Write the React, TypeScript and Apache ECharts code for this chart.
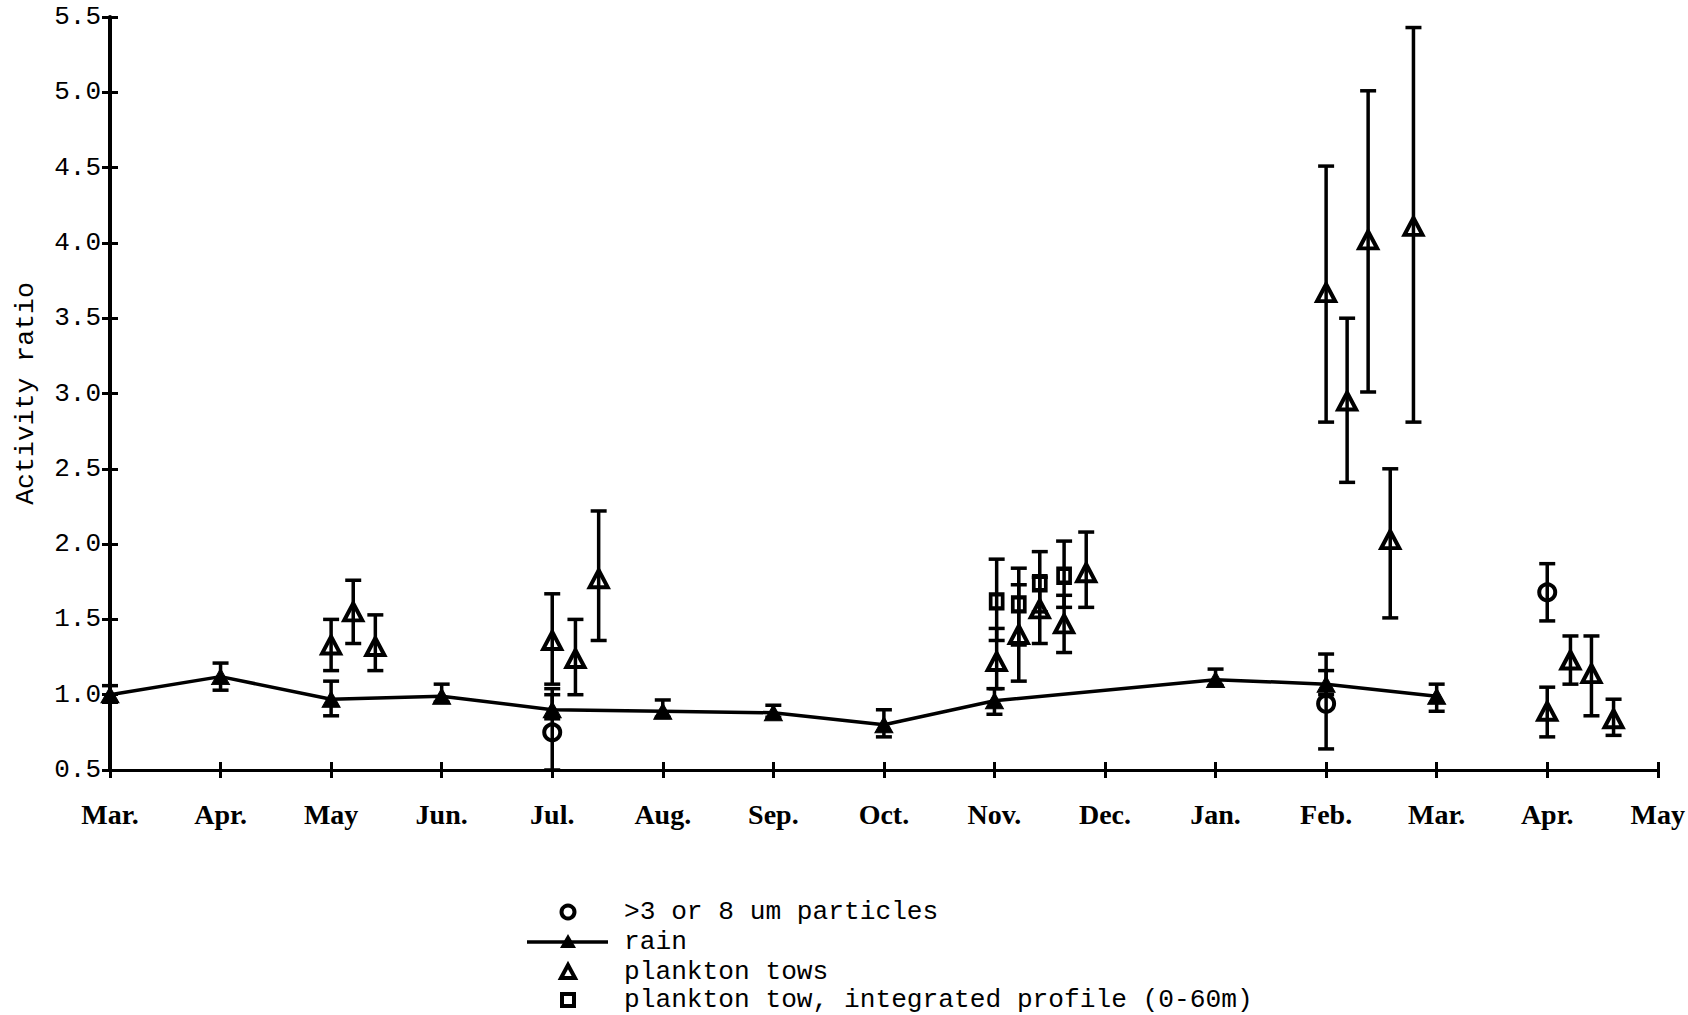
import React, { useEffect, useRef } from "react";
import * as echarts from "echarts";

// Month ticks along the time axis (index 0 = first March)
const monthLabels = ["Mar.", "Apr.", "May", "Jun.", "Jul.", "Aug.", "Sep.", "Oct.", "Nov.", "Dec.", "Jan.", "Feb.", "Mar.", "Apr.", "May"];

// Rain (filled triangles joined by a line)
const rainX = [0, 1, 2, 3, 4, 5, 6, 7, 8, 10, 11, 12];
const rainY = [1.0, 1.12, 0.97, 0.99, 0.9, 0.89, 0.88, 0.8, 0.96, 1.1, 1.07, 0.99];
const rainLow = [0.95, 1.03, 0.86, 0.95, 0.84, 0.85, 0.85, 0.72, 0.87, 1.06, 1.0, 0.89];
const rainHigh = [1.06, 1.21, 1.09, 1.07, 1.0, 0.965, 0.93, 0.9, 1.04, 1.17, 1.16, 1.07];

// >3 or 8 um particles (open circles)
const particleX = [4, 11, 13];
const particleY = [0.75, 0.94, 1.68];
const particleLow = [0.5, 0.64, 1.49];
const particleHigh = [1.04, 1.27, 1.87];

// Plankton tows (open triangles)
const towX = [2.0, 2.2, 2.4, 4.0, 4.21, 4.42, 8.02, 8.22, 8.41, 8.63, 8.83, 11.0, 11.19, 11.38, 11.58, 11.79, 13.0, 13.21, 13.4, 13.6];
const towY = [1.33, 1.55, 1.32, 1.36, 1.24, 1.77, 1.22, 1.4, 1.57, 1.47, 1.81, 3.67, 2.95, 4.02, 2.03, 4.11, 0.89, 1.23, 1.14, 0.84];
const towLow = [1.16, 1.34, 1.16, 1.07, 1.0, 1.36, 1.04, 1.09, 1.34, 1.28, 1.58, 2.81, 2.41, 3.01, 1.51, 2.81, 0.72, 1.07, 0.86, 0.73];
const towHigh = [1.5, 1.76, 1.53, 1.67, 1.5, 2.22, 1.44, 1.73, 1.78, 1.66, 2.08, 4.51, 3.5, 5.01, 2.5, 5.43, 1.05, 1.39, 1.39, 0.97];

// Plankton tow, integrated profile 0-60 m (open squares)
const profileX = [8.02, 8.22, 8.41, 8.63];
const profileY = [1.62, 1.6, 1.74, 1.79];
const profileLow = [1.36, 1.33, 1.55, 1.58];
const profileHigh = [1.9, 1.84, 1.95, 2.02];

const legendLabels = [">3 or 8 um particles", "rain", "plankton tows", "plankton tow, integrated profile (0-60m)"];

const MONO = '"Liberation Mono", "DejaVu Sans Mono", monospace';
const SERIF = '"Liberation Serif", "DejaVu Serif", serif';
const INK = "#000";

function errorBars(name: string, xs: number[], lows: number[], highs: number[]) {
  return {
    type: "custom",
    name,
    silent: true,
    z: 2,
    clip: false,
    data: xs.map((x, i) => [x, lows[i], highs[i]]),
    encode: { x: 0, y: [1, 2] },
    renderItem: (_params: any, api: any) => {
      const x = api.value(0);
      const lo = api.coord([x, api.value(1)]);
      const hi = api.coord([x, api.value(2)]);
      const hw = 8;
      const style = { stroke: INK, lineWidth: 3.5, fill: "none" };
      return {
        type: "group",
        children: [
          { type: "line", shape: { x1: lo[0], y1: lo[1], x2: hi[0], y2: hi[1] }, style },
          { type: "line", shape: { x1: lo[0] - hw, y1: lo[1], x2: lo[0] + hw, y2: lo[1] }, style },
          { type: "line", shape: { x1: hi[0] - hw, y1: hi[1], x2: hi[0] + hw, y2: hi[1] }, style },
        ],
      };
    },
  };
}

const pairs = (xs: number[], ys: number[]) => xs.map((x, i) => [x, ys[i]]);

function buildLegend() {
  const x0 = 568;
  const tx = 624;
  const rows = [912, 942, 972, 1000];
  const stroke = { stroke: INK, lineWidth: 4, fill: "none" };
  const items: any[] = [
    { type: "circle", shape: { cx: x0, cy: rows[0], r: 6.5 }, style: stroke },
    { type: "line", shape: { x1: 527, y1: rows[1], x2: 608, y2: rows[1] }, style: { stroke: INK, lineWidth: 3.5 } },
    { type: "polygon", shape: { points: [[x0, rows[1] - 8], [x0 + 8, rows[1] + 6], [x0 - 8, rows[1] + 6]] }, style: { fill: INK } },
    { type: "polygon", shape: { points: [[x0, rows[2] - 7], [x0 + 7, rows[2] + 6], [x0 - 7, rows[2] + 6]] }, style: stroke },
    { type: "rect", shape: { x: x0 - 6, y: rows[3] - 6, width: 12, height: 12 }, style: stroke },
  ];
  legendLabels.forEach((label, i) => {
    items.push({
      type: "text",
      x: tx,
      y: rows[i],
      style: { text: label, font: `26.2px ${MONO}`, fill: INK, verticalAlign: "middle", align: "left" },
    });
  });
  return items;
}

export default function App() {
  const ref = useRef<HTMLDivElement>(null);

  useEffect(() => {
    if (!ref.current) return;
    const chart = echarts.init(ref.current, null, { renderer: "svg" });

    const baseX = {
      type: "value",
      min: 0,
      max: 14,
      interval: 1,
      splitLine: { show: false },
    };
    const baseY = {
      type: "value",
      min: 0.5,
      max: 5.5,
      interval: 0.5,
      splitLine: { show: false },
    };

    const openMarker = { color: "rgba(0,0,0,0)", borderColor: INK, opacity: 1 };

    chart.setOption({
      animation: false,
      backgroundColor: "#fff",
      grid: { left: 110, right: 23, top: 17, bottom: 245, containLabel: false },
      xAxis: [
        {
          ...baseX,
          position: "bottom",
          axisLine: { show: true, onZero: false, lineStyle: { color: INK, width: 3 } },
          axisTick: { show: true, inside: false, length: 8, lineStyle: { color: INK, width: 3 } },
          axisLabel: {
            show: true,
            margin: 30,
            color: INK,
            fontFamily: SERIF,
            fontWeight: "bold",
            fontSize: 28,
            formatter: (v: number) => monthLabels[Math.round(v)] ?? "",
          },
        },
        {
          ...baseX,
          position: "bottom",
          axisLine: { show: false, onZero: false },
          axisTick: { show: true, inside: true, length: 8, lineStyle: { color: INK, width: 3 } },
          axisLabel: { show: false },
        },
      ],
      yAxis: [
        {
          ...baseY,
          position: "left",
          name: "Activity ratio",
          nameLocation: "middle",
          nameGap: 71,
          nameTextStyle: { color: INK, fontFamily: MONO, fontSize: 26.5 },
          axisLine: { show: true, onZero: false, lineStyle: { color: INK, width: 4 } },
          axisTick: { show: true, inside: false, length: 8, lineStyle: { color: INK, width: 3 } },
          axisLabel: {
            show: true,
            margin: 9,
            color: INK,
            fontFamily: MONO,
            fontSize: 26,
            formatter: (v: number) => v.toFixed(1),
          },
        },
        {
          ...baseY,
          position: "left",
          axisLine: { show: false, onZero: false },
          axisTick: { show: true, inside: true, length: 8, lineStyle: { color: INK, width: 3 } },
          axisLabel: { show: false },
        },
      ],
      graphic: buildLegend(),
      series: [
        errorBars("rain error", rainX, rainLow, rainHigh),
        errorBars("particles error", particleX, particleLow, particleHigh),
        errorBars("tows error", towX, towLow, towHigh),
        errorBars("profile error", profileX, profileLow, profileHigh),
        {
          type: "line",
          name: "rain",
          data: pairs(rainX, rainY),
          symbol: "triangle",
          symbolSize: [18, 16],
          showSymbol: true,
          lineStyle: { color: INK, width: 3.5 },
          itemStyle: { color: INK, borderColor: INK, borderWidth: 1, opacity: 1 },
          z: 3,
        },
        {
          type: "scatter",
          name: ">3 or 8 um particles",
          data: pairs(particleX, particleY),
          symbol: "circle",
          symbolSize: 16,
          itemStyle: { ...openMarker, borderWidth: 4 },
          z: 4,
        },
        {
          type: "scatter",
          name: "plankton tows",
          data: pairs(towX, towY),
          symbol: "triangle",
          symbolSize: [18, 17],
          itemStyle: { ...openMarker, borderWidth: 4 },
          z: 4,
        },
        {
          type: "scatter",
          name: "plankton tow, integrated profile (0-60m)",
          data: pairs(profileX, profileY),
          symbol: "rect",
          symbolSize: [12, 14],
          itemStyle: { ...openMarker, borderWidth: 4 },
          z: 4,
        },
      ],
    });

    return () => chart.dispose();
  }, []);

  return (
    <div
      ref={ref}
      style={{ position: "fixed", left: 0, top: 0, width: 1688, height: 1015, background: "#fff" }}
    />
  );
}
